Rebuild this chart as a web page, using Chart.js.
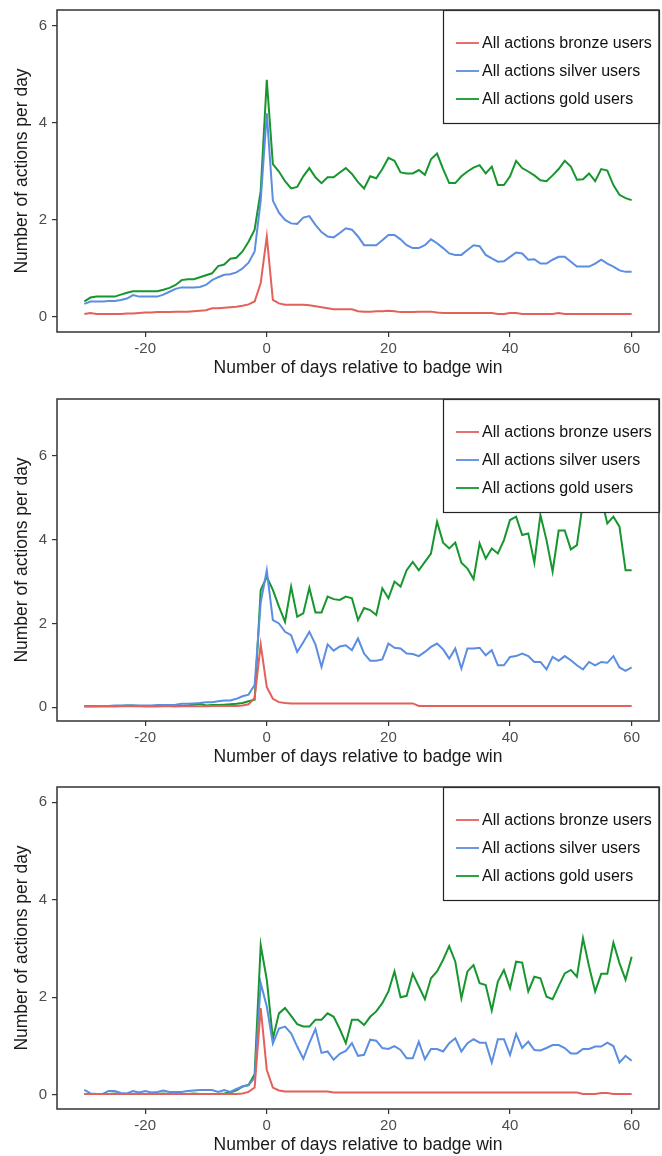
<!DOCTYPE html>
<html>
<head>
<meta charset="utf-8">
<title>Actions per day around badge win</title>
<script src="https://cdn.jsdelivr.net/npm/chart.js@4.4.1/dist/chart.umd.min.js"></script>
<style>
  html, body { margin: 0; padding: 0; background: #fff; width: 662px; height: 1156px; overflow: hidden; }
  .panel { position: absolute; left: 0; width: 662px; height: 389px; }
  canvas { display: block; }
</style>
</head>
<body>
<div class="panel" style="top:-4px"><canvas id="c1" width="662" height="389"></canvas></div>
<div class="panel" style="top:385px"><canvas id="c2" width="662" height="389"></canvas></div>
<div class="panel" style="top:773px"><canvas id="c3" width="662" height="389"></canvas></div>
<script>
// Days relative to the badge win
const days = [-30,-29,-28,-27,-26,-25,-24,-23,-22,-21,-20,-19,-18,-17,-16,-15,-14,-13,-12,-11,
  -10,-9,-8,-7,-6,-5,-4,-3,-2,-1,0,1,2,3,4,5,6,7,8,9,10,11,12,13,14,15,16,17,18,19,20,
  21,22,23,24,25,26,27,28,29,30,31,32,33,34,35,36,37,38,39,40,41,42,43,44,45,46,47,48,49,50,
  51,52,53,54,55,56,57,58,59,60];

const seriesNames = ['All actions bronze users', 'All actions silver users', 'All actions gold users'];
const xTicks = [-20, 0, 20, 40, 60];
const yTicks = [0, 2, 4, 6];
const xTitle = 'Number of days relative to badge win';
const yTitle = 'Number of actions per day';

// Panel 1
const bronze1 = [0.06,0.08,0.06,0.06,0.06,0.06,0.06,0.07,0.07,0.08,0.09,0.09,0.10,0.10,0.10,0.11,0.11,0.11,0.12,0.13,
  0.14,0.18,0.18,0.19,0.20,0.21,0.23,0.26,0.32,0.70,1.66,0.35,0.28,0.25,0.25,0.25,0.25,0.24,0.22,0.20,0.18,
  0.16,0.16,0.16,0.16,0.12,0.11,0.11,0.12,0.12,0.13,0.12,0.10,0.10,0.10,0.11,0.11,0.11,0.09,0.08,0.08,
  0.08,0.08,0.08,0.08,0.08,0.08,0.08,0.06,0.06,0.08,0.08,0.06,0.06,0.06,0.06,0.06,0.06,0.08,0.06,0.06,
  0.06,0.06,0.06,0.06,0.06,0.06,0.06,0.06,0.06,0.06];
const silver1 = [0.27,0.32,0.32,0.32,0.33,0.33,0.35,0.38,0.45,0.42,0.42,0.42,0.42,0.46,0.52,0.58,0.61,0.61,0.61,0.62,
  0.66,0.76,0.82,0.87,0.88,0.92,1.00,1.12,1.35,2.40,4.20,2.40,2.15,2.00,1.93,1.92,2.05,2.08,1.90,1.75,1.66,
  1.64,1.73,1.83,1.80,1.66,1.48,1.48,1.48,1.58,1.69,1.69,1.60,1.48,1.42,1.42,1.48,1.60,1.52,1.42,1.31,
  1.28,1.28,1.38,1.48,1.46,1.28,1.21,1.14,1.15,1.24,1.33,1.31,1.18,1.19,1.10,1.10,1.18,1.24,1.24,1.14,
  1.04,1.04,1.04,1.10,1.18,1.10,1.04,0.96,0.93,0.93];
const gold1 = [0.32,0.40,0.42,0.42,0.42,0.42,0.46,0.50,0.53,0.53,0.53,0.53,0.53,0.56,0.60,0.66,0.76,0.78,0.78,0.82,
  0.86,0.90,1.05,1.08,1.20,1.22,1.35,1.55,1.80,2.60,4.89,3.15,3.00,2.80,2.65,2.68,2.90,3.07,2.88,2.76,2.88,
  2.88,2.98,3.07,2.95,2.78,2.65,2.90,2.86,3.05,3.28,3.22,2.98,2.96,2.96,3.03,2.93,3.25,3.37,3.05,2.76,
  2.76,2.90,3.00,3.08,3.13,2.96,3.10,2.72,2.72,2.90,3.22,3.07,3.00,2.92,2.82,2.80,2.92,3.05,3.22,3.10,
  2.83,2.84,2.96,2.80,3.05,3.02,2.72,2.52,2.45,2.41];

// Panel 2
const bronze2 = [0.02,0.02,0.02,0.02,0.02,0.02,0.02,0.02,0.02,0.02,0.02,0.02,0.02,0.02,0.02,0.02,0.02,0.02,0.02,0.02,
  0.02,0.03,0.03,0.03,0.03,0.03,0.04,0.07,0.22,1.50,0.48,0.20,0.12,0.10,0.09,0.09,0.09,0.09,0.09,0.09,0.09,
  0.09,0.09,0.09,0.09,0.09,0.09,0.09,0.09,0.09,0.09,0.09,0.09,0.09,0.09,0.03,0.03,0.03,0.03,0.03,0.03,
  0.03,0.03,0.03,0.03,0.03,0.03,0.03,0.03,0.03,0.03,0.03,0.03,0.03,0.03,0.03,0.03,0.03,0.03,0.03,0.03,
  0.03,0.03,0.03,0.03,0.03,0.03,0.03,0.03,0.03,0.03];
const silver2 = [0.02,0.02,0.02,0.03,0.03,0.04,0.04,0.04,0.04,0.04,0.04,0.04,0.05,0.05,0.05,0.06,0.08,0.08,0.09,0.10,
  0.12,0.12,0.14,0.16,0.16,0.20,0.26,0.30,0.53,2.50,3.27,2.08,2.00,1.80,1.72,1.32,1.55,1.80,1.50,0.96,1.50,
  1.35,1.45,1.48,1.36,1.64,1.28,1.11,1.11,1.14,1.52,1.42,1.40,1.28,1.27,1.22,1.32,1.44,1.52,1.38,1.16,
  1.40,0.92,1.40,1.40,1.42,1.24,1.36,1.00,1.00,1.20,1.22,1.28,1.22,1.08,1.08,0.90,1.20,1.11,1.22,1.12,
  1.00,0.90,1.08,1.00,1.08,1.06,1.22,0.95,0.87,0.95];
const gold2 = [0.02,0.02,0.02,0.02,0.02,0.02,0.03,0.04,0.04,0.03,0.02,0.02,0.02,0.03,0.03,0.02,0.03,0.04,0.06,0.08,
  0.04,0.05,0.05,0.06,0.07,0.08,0.10,0.14,0.18,2.80,3.11,2.80,2.40,2.04,2.88,2.16,2.24,2.85,2.26,2.26,2.64,
  2.58,2.56,2.64,2.60,2.08,2.37,2.32,2.20,2.84,2.60,3.00,2.88,3.27,3.47,3.27,3.47,3.67,4.43,3.93,3.79,
  3.93,3.45,3.31,3.06,3.91,3.55,3.79,3.67,3.99,4.47,4.55,4.11,4.15,3.45,4.59,3.99,3.24,4.22,4.22,3.77,
  3.87,4.90,7.00,5.60,5.00,4.39,4.55,4.31,3.27,3.27];

// Panel 3
const bronze3 = [0.02,0.02,0.02,0.02,0.02,0.02,0.02,0.02,0.02,0.02,0.02,0.02,0.02,0.02,0.02,0.02,0.02,0.02,0.02,0.02,
  0.02,0.02,0.02,0.02,0.02,0.02,0.03,0.06,0.15,1.78,0.51,0.15,0.09,0.07,0.07,0.07,0.07,0.07,0.07,0.07,0.07,
  0.05,0.05,0.05,0.05,0.05,0.05,0.05,0.05,0.05,0.05,0.05,0.05,0.05,0.05,0.05,0.05,0.05,0.05,0.05,0.05,
  0.05,0.05,0.05,0.05,0.05,0.05,0.05,0.05,0.05,0.05,0.05,0.05,0.05,0.05,0.05,0.05,0.05,0.05,0.05,0.05,
  0.05,0.02,0.02,0.02,0.04,0.04,0.02,0.02,0.02,0.02];
const silver3 = [0.10,0.03,0.02,0.02,0.08,0.08,0.04,0.03,0.08,0.05,0.08,0.05,0.06,0.09,0.06,0.06,0.06,0.08,0.09,0.10,
  0.10,0.10,0.06,0.10,0.06,0.12,0.17,0.20,0.35,2.29,1.81,1.05,1.36,1.40,1.26,0.99,0.74,1.06,1.35,0.86,0.89,
  0.72,0.84,0.90,1.06,0.80,0.82,1.13,1.11,0.96,0.94,1.00,0.92,0.75,0.75,1.09,0.73,0.94,0.94,0.89,1.06,
  1.16,0.89,1.06,1.14,1.07,1.07,0.66,1.14,1.14,0.82,1.25,0.96,1.09,0.92,0.91,0.96,1.02,1.02,0.96,0.85,
  0.85,0.94,0.94,0.99,0.99,1.07,1.00,0.66,0.80,0.70];
const gold3 = [0.02,0.02,0.02,0.02,0.02,0.03,0.02,0.02,0.02,0.03,0.02,0.02,0.02,0.03,0.02,0.02,0.02,0.02,0.03,0.02,
  0.02,0.02,0.02,0.03,0.05,0.09,0.17,0.20,0.42,3.07,2.36,1.15,1.67,1.78,1.62,1.45,1.40,1.40,1.54,1.54,1.67,
  1.60,1.35,1.06,1.54,1.54,1.43,1.60,1.71,1.88,2.12,2.53,2.00,2.03,2.48,2.22,1.96,2.39,2.53,2.77,3.05,
  2.73,1.98,2.53,2.66,2.29,2.25,1.73,2.32,2.56,2.19,2.73,2.71,2.12,2.42,2.39,2.01,1.96,2.23,2.49,2.56,
  2.42,3.21,2.63,2.12,2.48,2.48,3.12,2.70,2.36,2.83];

const COLORS = ['#E4605B', '#5B8DE0', '#17962F'];
const FONT = "'Liberation Sans', Arial, Helvetica, sans-serif";
const AXIS_COLOR = '#333333';

// Full frame around the plotting region plus a boxed legend in the top-right corner
const frameLegend = {
  id: 'frameLegend',
  afterDatasetsDraw(chart) {
    const { ctx, chartArea: a } = chart;
    const boxW = 216, boxH = 113;
    const bx = a.right - boxW, by = a.top;
    ctx.save();
    ctx.fillStyle = '#ffffff';
    ctx.fillRect(bx, by, boxW, boxH);
    ctx.strokeStyle = '#222222';
    ctx.lineWidth = 1.2;
    ctx.strokeRect(bx + 0.5, by + 0.5, boxW, boxH);
    ctx.font = '16px ' + FONT;
    ctx.textBaseline = 'middle';
    ctx.textAlign = 'left';
    chart.data.datasets.forEach((ds, i) => {
      const y = by + 33 + 28 * i;
      ctx.strokeStyle = ds.borderColor;
      ctx.lineWidth = 1.8;
      ctx.beginPath();
      ctx.moveTo(bx + 13, y);
      ctx.lineTo(bx + 36, y);
      ctx.stroke();
      ctx.fillStyle = '#111111';
      ctx.fillText(ds.label, bx + 39, y + 1);
    });
    ctx.restore();
  },
  afterDraw(chart) {
    const { ctx, chartArea: a } = chart;
    ctx.save();
    ctx.strokeStyle = AXIS_COLOR;
    ctx.lineWidth = 1.5;
    ctx.strokeRect(a.left, a.top, a.right - a.left, a.bottom - a.top);
    ctx.restore();
  }
};

function makePanel(canvasId, yMin, yMax, bronze, silver, gold) {
  const series = [bronze, silver, gold];
  return new Chart(document.getElementById(canvasId), {
    type: 'line',
    data: {
      labels: days,
      datasets: series.map((values, i) => ({
        label: seriesNames[i],
        data: values,
        borderColor: COLORS[i],
        backgroundColor: COLORS[i],
        borderWidth: 2,
        pointRadius: 0,
        tension: 0,
        fill: false
      }))
    },
    options: {
      responsive: false,
      animation: false,
      events: [],
      layout: { padding: { top: 14, right: 3, bottom: 0, left: 0 } },
      plugins: { legend: { display: false }, tooltip: { enabled: false } },
      scales: {
        x: {
          type: 'linear',
          min: -34.5,
          max: 64.5,
          afterBuildTicks: axis => { axis.ticks = xTicks.map(v => ({ value: v })); },
          afterFit: axis => { axis.height = 53; },
          border: { display: false },
          grid: { drawOnChartArea: false, drawTicks: true, tickLength: 5, color: AXIS_COLOR, lineWidth: 1.2 },
          ticks: { color: '#4d4d4d', font: { family: FONT, size: 15 }, padding: 3, maxRotation: 0 },
          title: { display: true, text: xTitle, color: '#1a1a1a', font: { family: FONT, size: 17.5 }, padding: { top: 0, bottom: 6.5 } }
        },
        y: {
          type: 'linear',
          min: yMin,
          max: yMax,
          afterBuildTicks: axis => { axis.ticks = yTicks.map(v => ({ value: v })); },
          afterFit: axis => { axis.width = 57; },
          border: { display: false },
          grid: { drawOnChartArea: false, drawTicks: true, tickLength: 5, color: AXIS_COLOR, lineWidth: 1.2 },
          ticks: { color: '#4d4d4d', font: { family: FONT, size: 15 }, padding: 5 },
          title: { display: true, text: yTitle, color: '#1a1a1a', font: { family: FONT, size: 17.5 }, padding: { top: 11.5, bottom: 0 } }
        }
      }
    },
    plugins: [frameLegend]
  });
}

makePanel('c1', -0.31, 6.33, bronze1, silver1, gold1);
makePanel('c2', -0.33, 7.36, bronze2, silver2, gold2);
makePanel('c3', -0.29, 6.31, bronze3, silver3, gold3);
</script>
</body>
</html>
